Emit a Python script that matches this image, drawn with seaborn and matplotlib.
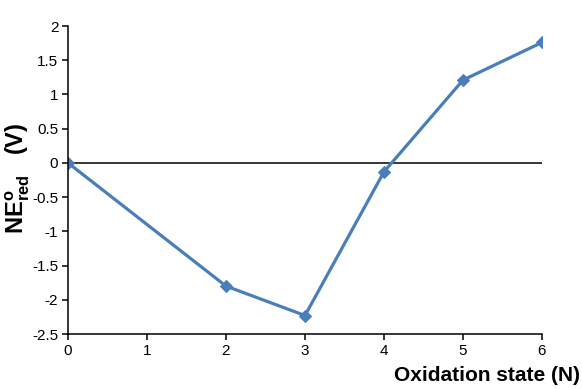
import matplotlib
matplotlib.use("Agg")
import matplotlib.pyplot as plt
import seaborn as sns
import pandas as pd

oxidation_state = [0, 2, 3, 4, 5, 6]
ne_red = [0.0, -1.80, -2.23, -0.13, 1.21, 1.76]
zero_x = [0, 6]
zero_y = [0.0, 0.0]
x_ticks = [0, 1, 2, 3, 4, 5, 6]
y_ticks = [-2.5, -2, -1.5, -1, -0.5, 0, 0.5, 1, 1.5, 2]

sns.set_style("ticks")
plt.rcParams['font.family'] = ['Liberation Sans', 'DejaVu Sans']
plt.rcParams['mathtext.fontset'] = 'custom'
plt.rcParams['mathtext.rm'] = 'Liberation Sans:bold'
plt.rcParams['mathtext.it'] = 'Liberation Sans:bold'
plt.rcParams['mathtext.bf'] = 'Liberation Sans:bold'
plt.rcParams['text.color'] = 'black'
plt.rcParams['axes.labelcolor'] = 'black'
plt.rcParams['xtick.color'] = 'black'
plt.rcParams['ytick.color'] = 'black'

df = pd.DataFrame({"x": oxidation_state, "y": ne_red})
dz = pd.DataFrame({"x": zero_x, "y": zero_y})

fig = plt.figure(figsize=(5.82, 3.89), dpi=100)
ax = fig.add_axes([68/582, 1 - 334/389, 474/582, 308/389])

sns.lineplot(data=dz, x="x", y="y", ax=ax, color="black", linewidth=1.1)
sns.lineplot(data=df, x="x", y="y", ax=ax, color="#4A7EBB", linewidth=2.3,
             marker="D", markersize=6.5, markeredgecolor="#4A7EBB")

ax.set_xlim(0, 6)
ax.set_ylim(-2.5, 2)
ax.set_xticks(x_ticks)
ax.set_yticks(y_ticks)
ax.set_xticklabels([str(v) for v in x_ticks])
ax.set_yticklabels([f"{v:g}" for v in y_ticks])
ax.tick_params(axis="both", labelsize=11, length=4, width=1.1, color="black", labelcolor="black", direction="out", pad=3)

for side in ["top", "right"]:
    ax.spines[side].set_visible(False)
for side in ["left", "bottom"]:
    ax.spines[side].set_linewidth(1.1)
    ax.spines[side].set_color("black")

ax.set_xlabel("Oxidation state (N)", fontsize=15, fontweight="bold", ha="right")
ax.xaxis.set_label_coords(1.08, -0.105)
ax.set_ylabel(r"$\mathrm{NE^{o}_{red}}$" + "   (V)", fontsize=17, fontweight="bold")
ax.yaxis.set_label_coords(-0.077, 0.506)

fig.savefig("out.png", dpi=100)
